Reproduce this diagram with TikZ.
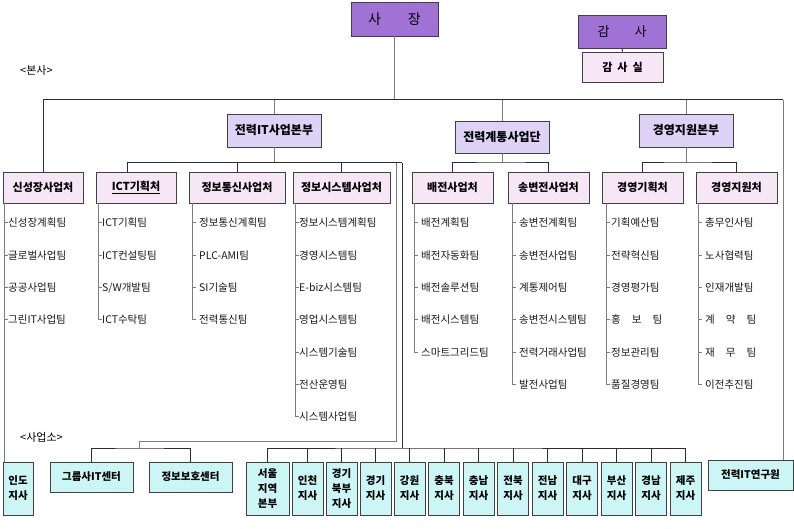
\documentclass[tikz,border=0pt]{standalone}
\usepackage{fontspec}
\setmainfont{Noto Sans CJK KR}
\usetikzlibrary{calc}
\definecolor{chief}{RGB}{160,114,214}
\definecolor{hq}{RGB}{222,210,246}
\definecolor{dept}{RGB}{246,230,246}
\definecolor{site}{RGB}{204,246,246}
\definecolor{wire}{RGB}{45,45,45}
\definecolor{wiregray}{RGB}{125,125,125}
\newcommand\gapsp{\hspace{11pt}}
\newcommand\mkteams[5]{%
  \coordinate (#1B) at (#3,0 |- #2.south);
  \foreach \t [count=\i] in {#5} {
    \node[team] (#1\i) at (#4,{223+32.3*(\i-1)}) {\t};
    \draw[bracket] (#1\i.west -| #1B) -- ++(4,0);
    \xdef\lastteam{\i}
  }
  \draw[bracket] (#1B) -- (#1\lastteam.west -| #1B);
}
\begin{document}
\begin{tikzpicture}[x=1pt,y=-1pt,
  box/.style={draw=black!75, line width=0.9pt, inner sep=0pt, align=center, text=black},
  chiefbox/.style={box, fill=chief, font=\fontsize{14}{16}\selectfont},
  hqbox/.style={box, fill=hq, minimum width=94pt, minimum height=33pt, font=\bfseries\fontsize{12}{14}\selectfont},
  deptbox/.style={box, fill=dept, minimum height=31pt, font=\bfseries\fontsize{11}{13}\selectfont},
  sitebox/.style={box, fill=site, minimum height=53pt, minimum width=31pt, font=\bfseries\fontsize{10.5}{15}\selectfont},
  team/.style={anchor=west, inner sep=0pt, font=\fontsize{10.5}{12}\selectfont, text=black!90},
  conn/.style={draw=wire, line width=1pt},
  gconn/.style={draw=wiregray, line width=1pt},
  bracket/.style={draw=wiregray, line width=1pt},
  note/.style={anchor=west, inner sep=0pt, font=\fontsize{11}{13}\selectfont}
]
\useasboundingbox (0,0) rectangle (794,529);

% ---- top level
\node[chiefbox, minimum width=87pt, minimum height=34pt] (ceo) at (394.5,19) {사\hspace{27pt}장};
\node[chiefbox, minimum width=88pt, minimum height=33pt, font=\fontsize{13}{15}\selectfont] (audit) at (622,31.5) {감\hspace{25pt}사};
\node[deptbox, minimum width=81pt, minimum height=30pt] (auditoff) at (622.5,67) {감\hspace{5pt}사\hspace{5pt}실};
\node[note] (bonsa) at (20,70) {<본사>};

% ---- headquarters
\node[hqbox] (itHQ) at (274,130.5) {전력IT사업본부};
\node[hqbox, minimum height=32pt] (gridHQ) at (502,137) {전력계통사업단};
\node[hqbox] (mgmtHQ) at (686,130.5) {경영지원본부};

% ---- departments
\node[deptbox, minimum width=80pt] (sinsung) at (43,187.5) {신성장사업처};
\node[deptbox, minimum width=80pt] (ict) at (136,187.5) {\underline{ICT기획처}};
\node[deptbox, minimum width=96pt] (telecom) at (237,187.5) {정보통신사업처};
\node[deptbox, minimum width=97pt] (infosys) at (341.5,187.5) {정보시스템사업처};
\node[deptbox, minimum width=81pt] (dist) at (452.5,187.5) {배전사업처};
\node[deptbox, minimum width=81pt] (trans) at (548.5,187.5) {송변전사업처};
\node[deptbox, minimum width=81pt] (plan) at (642.5,187.5) {경영기획처};
\node[deptbox, minimum width=81pt] (support) at (736.5,187.5) {경영지원처};

% ---- teams
\mkteams{sa}{sinsung}{4}{8}{신성장계획팀,글로벌사업팀,공공사업팀,그린IT사업팀}
\mkteams{ic}{ict}{98}{102}{ICT기획팀,ICT컨설팅팀,S/W개발팀,ICT수탁팀}
\mkteams{te}{telecom}{192}{199}{정보통신계획팀,PLC-AMI팀,SI기술팀,전력통신팀}
\mkteams{sy}{infosys}{295}{299}{정보시스템계획팀,경영시스템팀,E-biz시스템팀,영업시스템팀,시스템기술팀,전산운영팀,시스템사업팀}
\mkteams{di}{dist}{414}{421}{배전계획팀,배전자동화팀,배전솔루션팀,배전시스템팀,스마트그리드팀}
\mkteams{tr}{trans}{512}{519}{송변전계획팀,송변전사업팀,계통제어팀,송변전시스템팀,전력거래사업팀,발전사업팀}
\mkteams{pl}{plan}{606}{611}{기획예산팀,전략혁신팀,경영평가팀,홍\gapsp 보\gapsp 팀,정보관리팀,품질경영팀}
\mkteams{su}{support}{698}{705}{총무인사팀,노사협력팀,인재개발팀,계\gapsp 약\gapsp 팀,재\gapsp 무\gapsp 팀,이전추진팀}

% ---- offices
\node[note] (saeopso) at (20,437) {<사업소>};
\node[sitebox, minimum width=30pt] (indo) at (18,488.5) {인도\\지사};
\node[sitebox, minimum width=83pt, minimum height=30pt] (grp) at (91.5,477) {그룹사IT센터};
\node[sitebox, minimum width=83pt, minimum height=30pt] (sec) at (190.5,477) {정보보호센터};
\node[sitebox, minimum width=43pt] (seoul) at (267.5,488.5) {서울\\지역\\본부};
\foreach \nm/\xx/\txt in {incheon/307.5/인천\\지사, gbukbu/341.5/경기\\북부\\지사, gyeonggi/375.5/경기\\지사,
  gangwon/409.5/강원\\지사, chungbuk/444/충북\\지사, chungnam/478.5/충남\\지사, jeonbuk/513/전북\\지사,
  jeonnam/547.5/전남\\지사, daegu/582/대구\\지사, busan/616.5/부산\\지사, gyeongnam/651/경남\\지사}
  \node[sitebox] (\nm) at (\xx,488.5) {\txt};
\node[sitebox] (jeju) at (685.5,488.5) {제주\\지사};
\node[sitebox, minimum width=85pt, minimum height=30pt] (lab) at (750.5,475) {전력IT연구원};

% ---- connectors: top
\coordinate (mBus) at (394.5,100);
\coordinate (rTop) at (783,100);
\draw[gconn] (ceo.south) -- (mBus);
\draw[conn] (sinsung.north) |- (rTop);
\draw[gconn] (rTop) -- (rTop |- lab.north);
\foreach \h in {itHQ,gridHQ,mgmtHQ} \draw[gconn] (\h.north) -- (\h.north |- mBus);
\draw[conn] (audit.south) -- (auditoff.north);

% ---- connectors: branches
\coordinate (itEnd) at (402,163);
\draw[gconn] (itHQ.south) -- (itHQ.south |- itEnd);
\draw[conn] ([xshift=-9pt]ict.north) |- (itEnd);
\draw[conn] (telecom.north) -- (telecom.north |- itEnd);
\draw[conn] (infosys.north) -- (infosys.north |- itEnd);
\coordinate (gridBr) at (502,163);
\draw[gconn] (gridHQ.south) -- (gridBr);
\draw[conn] (dist.north) |- (gridBr) -| (trans.north);
\coordinate (mgmtBr) at (686,163);
\draw[gconn] (mgmtHQ.south) -- (mgmtBr);
\draw[conn] (plan.north) |- (mgmtBr) -| (support.north);

% ---- connectors: offices
\draw[bracket] (saB) -- (indo.north -| saB);
\coordinate (gDrop) at (396,163);
\coordinate (gTurn) at (396,441);
\coordinate (gTap) at (139,441);
\coordinate (gBus) at (139,448);
\draw[gconn] (gDrop) -- (gTurn) -- (gTap) -- (gBus);
\draw[conn] (grp.north) |- (gBus) -| (sec.north);
\coordinate (sBus) at (402,448);
\draw[conn] (itEnd) -- (sBus);
\draw[conn] (seoul.north) |- (sBus) -| (jeju.north);
\foreach \nm in {incheon,gbukbu,gyeonggi,gangwon,chungbuk,chungnam,jeonbuk,jeonnam,daegu,busan,gyeongnam}
  \draw[conn] (\nm.north) -- (\nm.north |- sBus);
\end{tikzpicture}
\end{document}
